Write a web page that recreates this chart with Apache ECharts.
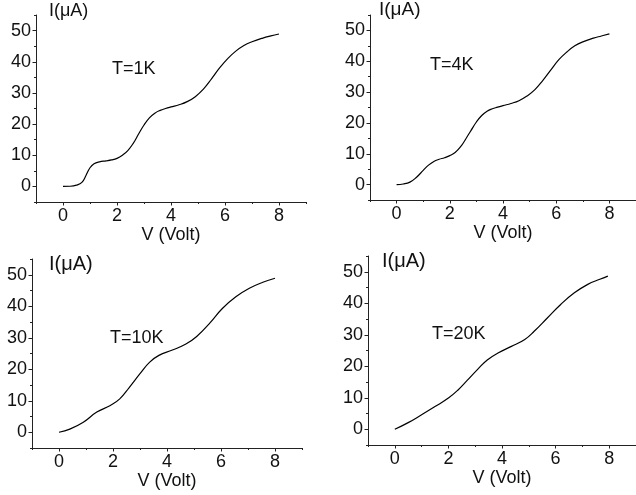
<!DOCTYPE html>
<html><head><meta charset="utf-8">
<script src="https://cdn.jsdelivr.net/npm/echarts@6/dist/echarts.min.js"></script>
<style>html,body{margin:0;padding:0;background:#fff}#c{width:636px;height:495px}</style>
</head><body><div id="c"></div>
<script>
const panelLabels = ['T=1K', 'T=4K', 'T=10K', 'T=20K'];
const xName = 'V (Volt)';
const yName = 'I(\u03bcA)';
const xTickValues = [0, 2, 4, 6, 8];
const xMinorValues = [-1, 1, 3, 5, 7, 9];
const yTickValues = [0, 10, 20, 30, 40, 50];
const yMinorValues = [-5, 5, 15, 25, 35, 45, 55];

const v1K = [0, 0.25, 0.5, 0.7, 0.85, 1.0, 1.15, 1.35, 1.6, 1.8, 2.0, 2.2, 2.4, 2.6, 2.8, 3.0, 3.2, 3.4, 3.6, 3.8, 4.0, 4.3, 4.6, 4.9, 5.2, 5.5, 5.8, 6.1, 6.4, 6.7, 7.0, 7.4, 7.7, 8.0];
const i1K = [0, 0.05, 0.4, 1.3, 3.5, 6.0, 7.3, 7.9, 8.2, 8.5, 9.0, 10.0, 11.5, 13.8, 16.8, 19.7, 22.0, 23.5, 24.4, 25.0, 25.5, 26.2, 27.2, 28.8, 31.2, 34.5, 38.0, 41.0, 43.4, 45.2, 46.4, 47.6, 48.3, 48.9];

const v4K = [0, 0.25, 0.5, 0.75, 1.0, 1.2, 1.4, 1.6, 1.8, 2.0, 2.2, 2.4, 2.6, 2.8, 3.0, 3.2, 3.4, 3.6, 3.8, 4.0, 4.3, 4.6, 4.9, 5.2, 5.5, 5.8, 6.1, 6.4, 6.7, 7.0, 7.4, 7.7, 8.0];
const i4K = [0, 0.2, 0.8, 2.4, 4.6, 6.3, 7.5, 8.2, 8.7, 9.4, 10.4, 12.2, 14.8, 17.6, 20.3, 22.4, 23.8, 24.6, 25.1, 25.6, 26.3, 27.2, 28.7, 30.8, 33.8, 37.2, 40.5, 43.0, 45.0, 46.3, 47.5, 48.2, 48.9];

const v10K = [0, 0.4, 0.9, 1.4, 1.9, 2.25, 2.6, 3.0, 3.35, 3.7, 4.2, 4.7, 5.1, 5.6, 6.05, 6.55, 7.05, 7.55, 8.0];
const i10K = [0, 1.0, 3.2, 6.4, 8.5, 10.6, 14.2, 18.6, 22.2, 24.4, 26.1, 28.0, 30.4, 34.8, 39.3, 43.0, 45.7, 47.6, 48.9];

const v20K = [0, 0.5, 1.0, 1.5, 2.0, 2.35, 2.7, 3.1, 3.45, 3.85, 4.35, 4.85, 5.2, 5.7, 6.2, 6.7, 7.2, 7.65, 7.95];
const i20K = [0, 2.1, 4.6, 7.2, 9.9, 12.4, 15.5, 19.1, 22.0, 24.2, 26.3, 28.5, 31.1, 35.4, 39.7, 43.3, 46.0, 47.6, 48.6];

const panelV = [v1K, v4K, v10K, v20K];
const panelI = [i1K, i4K, i10K, i20K];

const layouts = [
  {left: 36, top: 15, width: 270, height: 187, yGap: 13, yPad: 13, ySize: 18, tx: 112, ty: 60},
  {left: 370, top: 12, width: 269, height: 188, yGap: 15, yPad: 9, ySize: 19, tx: 430, ty: 56},
  {left: 32, top: 259, width: 270, height: 189, yGap: 5, yPad: 17, ySize: 20, tx: 110, ty: 329},
  {left: 368, top: 256, width: 269, height: 189, yGap: 5, yPad: 14, ySize: 20, tx: 432, ty: 325}
];

const FONT = 'Liberation Sans, Arial, sans-serif';
const AX = '#222';
const grid = [], xAxis = [], yAxis = [], series = [], graphic = [];

layouts.forEach((L, k) => {
  grid.push({left: L.left, top: L.top, width: L.width, height: L.height, containLabel: false});
  xAxis.push({
    type: 'value', gridIndex: k, min: -1, max: 9, position: 'bottom',
    axisLine: {show: true, onZero: false, lineStyle: {color: AX, width: 1}},
    axisTick: {show: true, length: 3.5, customValues: xTickValues, lineStyle: {color: AX, width: 1}},
    axisLabel: {customValues: xTickValues, fontSize: 18, color: '#111', margin: 5, fontFamily: FONT},
    splitLine: {show: false},
    name: xName, nameLocation: 'middle', nameGap: 22,
    nameTextStyle: {fontSize: 18, color: '#111', fontFamily: FONT}
  });
  xAxis.push({
    type: 'value', gridIndex: k, min: -1, max: 9, position: 'bottom',
    axisLine: {show: false, onZero: false},
    axisTick: {show: true, length: 2, customValues: xMinorValues, lineStyle: {color: AX, width: 1}},
    axisLabel: {show: false}, splitLine: {show: false}
  });
  yAxis.push({
    type: 'value', gridIndex: k, min: -5, max: 55, position: 'left',
    axisLine: {show: true, onZero: false, lineStyle: {color: AX, width: 1}},
    axisTick: {show: true, length: 3.5, customValues: yTickValues, lineStyle: {color: AX, width: 1}},
    axisLabel: {customValues: yTickValues, fontSize: 18, color: '#111', margin: 5, fontFamily: FONT},
    splitLine: {show: false},
    name: yName, nameLocation: 'end', nameGap: L.yGap,
    nameTextStyle: {fontSize: L.ySize, color: '#111', fontFamily: FONT, align: 'left', verticalAlign: 'top', padding: [0, 0, 0, L.yPad]}
  });
  yAxis.push({
    type: 'value', gridIndex: k, min: -5, max: 55, position: 'left',
    axisLine: {show: false, onZero: false},
    axisTick: {show: true, length: 2, customValues: yMinorValues, lineStyle: {color: AX, width: 1}},
    axisLabel: {show: false}, splitLine: {show: false}
  });
  series.push({
    type: 'line', xAxisIndex: 2 * k, yAxisIndex: 2 * k,
    data: panelV[k].map((v, j) => [v, panelI[k][j]]),
    smooth: 0.45, showSymbol: false, symbol: 'none', silent: true,
    lineStyle: {color: '#000', width: 1.2}
  });
  graphic.push({
    type: 'text', left: L.tx, top: L.ty, silent: true,
    style: {text: panelLabels[k], fontSize: 18, fill: '#111', fontFamily: FONT}
  });
});

const chart = echarts.init(document.getElementById('c'), null, {renderer: 'canvas'});
chart.setOption({animation: false, backgroundColor: '#fff', grid, xAxis, yAxis, series, graphic});
</script></body></html>
